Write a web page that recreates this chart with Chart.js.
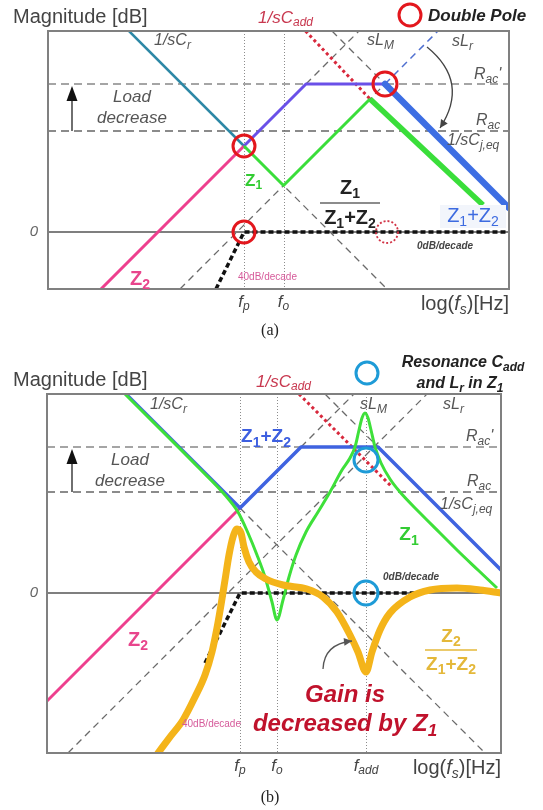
<!DOCTYPE html>
<html>
<head>
<meta charset="utf-8">
<script src="https://cdn.jsdelivr.net/npm/chart.js@4.4.1/dist/chart.umd.min.js"></script>
<style>
  html, body { margin: 0; padding: 0; background: #fff; }
  #wrap { position: relative; width: 543px; height: 810px; overflow: hidden; }
  canvas { position: absolute; left: 0; }
  #cA { top: 0; }
  #cB { top: 345px; }
</style>
</head>
<body>
<div id="wrap">
  <canvas id="cA" width="543" height="345"></canvas>
  <canvas id="cB" width="543" height="465"></canvas>
</div>
<script>
// x: log10 of switching frequency (decades, arbitrary origin); y: magnitude in dB.
// Asymptotes fall or rise at 20 dB/decade, the dotted gain asymptote at 40 dB/decade.

// ---------- panel (a): straight-line asymptotes ----------
const a_xRange = [0, 9.22];
const a_yRange = [-22.8, 80.4];
const a_fp = 3.92, a_fo = 4.71;
const a_racPrime = 59.2, a_rac = 40.4;
const a_invCr     = [[1.62, 80.4], [3.92, 34.4]];
const a_invCrTail = [[3.92, 34.4], [6.78, -22.8]];
const a_z2        = [[1.06, -22.8], [3.92, 34.4]];
const a_sum       = [[3.92, 34.4], [5.16, 59.2], [6.74, 59.2]];
const a_sumTail   = [[6.74, 59.2], [9.22, 9.6]];
const a_z1        = [[3.92, 34.4], [4.71, 18.6], [6.44, 53.2]];
const a_z1Tail    = [[6.44, 53.2], [8.70, 10.8]];
const a_ratio     = [[3.36, -22.8], [3.92, 0], [9.22, 0]];
const a_invCadd   = [[5.15, 80.4], [6.44, 53.2]];
const a_sLr       = [[2.64, -22.8], [6.74, 59.2]];
const a_sLrTop    = [[6.74, 59.2], [7.80, 80.4]];
const a_sLmTop    = [[5.16, 59.2], [6.22, 80.4]];
const a_invCjTop  = [[5.68, 80.4], [6.74, 59.2]];
const a_poles     = [[3.92, 34.4], [3.92, 0], [6.74, 59.2]];
const a_cancelled = [6.78, 0];
const a_tickVals  = [a_fp, a_fo];
const a_tickNames = ['f_p', 'f_o'];

// ---------- panel (b): with the added capacitor resonance ----------
const b_xRange = [0, 9.08];
const b_yRange = [-64, 79.6];
const b_fp = 3.86, b_fo = 4.60, b_fadd = 6.38;
const b_racPrime = 58.4, b_rac = 40.4;
const b_sum       = [[1.58, 79.6], [3.86, 34.0], [5.08, 58.4], [6.62, 58.4], [9.08, 9.2]];
const b_z2        = [[0, -43.2], [3.86, 34.0]];
const b_ratio     = [[3.16, -28], [3.86, 0], [7.50, 0]];
const b_invCadd   = [[5.04, 79.6], [6.90, 42.4]];
const b_sLr       = [[0.42, -64], [7.60, 79.6]];
const b_invCrTail = [[3.86, 34.0], [8.76, -64]];
const b_sLmTop    = [[5.08, 58.4], [6.14, 79.6]];
const b_invCjTop  = [[5.56, 79.6], [6.62, 58.4]];
const b_z1 = [
  [1.56, 79.6], [3.06, 49.6], [3.56, 39.2], [3.82, 32.4], [4.02, 24.0], [4.20, 15.2],
  [4.36, 6.4], [4.50, -3.6], [4.60, -10.8], [4.72, -2.8], [4.84, 6.4], [4.98, 15.2],
  [5.18, 24.4], [5.42, 32.4], [5.66, 40.4], [5.90, 49.2], [6.06, 54.0], [6.16, 58.4],
  [6.24, 65.2], [6.30, 70.0], [6.36, 72.0], [6.42, 70.0], [6.48, 65.2], [6.56, 58.4],
  [6.68, 52.0], [6.86, 45.6], [7.06, 40.4], [7.46, 32.0], [7.86, 24.0], [8.22, 16.8],
  [8.62, 9.2], [9.00, 2.0]
];
const b_gain = [
  [2.22, -64], [2.46, -57.6], [2.72, -50.8], [2.96, -41.6], [3.16, -32.8], [3.30, -23.6],
  [3.40, -14.0], [3.48, -4.8], [3.56, 5.2], [3.64, 15.2], [3.72, 22.4], [3.80, 25.6],
  [3.88, 24.0], [3.94, 18.4], [4.04, 12.4], [4.18, 8.4], [4.38, 5.6], [4.72, 3.2],
  [5.20, 1.6], [5.52, -1.6], [5.80, -7.6], [6.06, -16.8], [6.22, -23.6], [6.38, -31.6],
  [6.50, -23.6], [6.66, -14.8], [6.86, -8.0], [7.26, -1.6], [7.66, 1.2], [8.20, 2.0],
  [8.66, 1.2], [9.08, 0]
];
const b_marks     = [[6.38, 53.2], [6.38, 0]];
const b_tickVals  = [b_fp, b_fo, b_fadd];
const b_tickNames = ['f_p', 'f_o', 'f_{add}'];

// ---------- drawing helpers ----------
const SANS = '"Liberation Sans", Arial, sans-serif';
const SERIF = '"Liberation Serif", "Times New Roman", serif';
const GREY = '#6a6a6a';
const DASH = [7, 5];

function pts(arr) { return arr.map(([x, y]) => ({ x, y })); }
function level(range, v) { return [[range[0], v], [range[1], v]]; }
function line(data, color, width, extra) {
  return Object.assign({
    data: pts(data), borderColor: color, borderWidth: width,
    pointRadius: 0, fill: false, tension: 0, borderCapStyle: 'butt', borderJoinStyle: 'round'
  }, extra || {});
}

function parseRich(s) {
  const parts = []; let i = 0, buf = '';
  while (i < s.length) {
    if (s[i] === '_') {
      if (buf) { parts.push({ t: buf }); buf = ''; }
      if (s[i + 1] === '{') { const j = s.indexOf('}', i); parts.push({ t: s.slice(i + 2, j), sub: true }); i = j + 1; }
      else { parts.push({ t: s[i + 1], sub: true }); i += 2; }
    } else { buf += s[i]; i++; }
  }
  if (buf) parts.push({ t: buf });
  return parts;
}

function text(ctx, s, x, y, o) {
  const parts = (Array.isArray(s) ? s : parseRich(s)).map(p => Object.assign({}, p));
  const size = o.size || 14, align = o.align || 'left';
  const font = p => `${(p.it !== undefined ? p.it : o.italic) ? 'italic ' : ''}${o.bold ? 'bold ' : ''}${p.sub ? Math.round(size * 0.72) : size}px ${o.family || SANS}`;
  let w = 0;
  for (const p of parts) { ctx.font = font(p); p.w = ctx.measureText(p.t).width; w += p.w; }
  if (o.measure) return w;
  let cx = align === 'center' ? x - w / 2 : align === 'right' ? x - w : x;
  ctx.save();
  ctx.fillStyle = o.color || '#444';
  ctx.textBaseline = 'middle'; ctx.textAlign = 'left';
  for (const p of parts) { ctx.font = font(p); ctx.fillText(p.t, cx, y + (p.sub ? size * 0.3 : 0)); cx += p.w; }
  ctx.restore();
  return w;
}

function fraction(ctx, num, den, cx, barY, barW, o) {
  text(ctx, num, cx, barY - o.size * 0.72, Object.assign({ align: 'center' }, o));
  text(ctx, den, cx, barY + o.size * 0.78, Object.assign({ align: 'center' }, o));
  ctx.save(); ctx.strokeStyle = o.barColor || o.color; ctx.lineWidth = 1.6;
  ctx.beginPath(); ctx.moveTo(cx - barW / 2, barY); ctx.lineTo(cx + barW / 2, barY); ctx.stroke();
  ctx.restore();
}

function ring(ctx, x, y, r, color, width, dash) {
  ctx.save(); ctx.strokeStyle = color; ctx.lineWidth = width;
  ctx.setLineDash(dash || []);
  ctx.beginPath(); ctx.arc(x, y, r, 0, Math.PI * 2); ctx.stroke();
  ctx.restore();
}

function arrowHead(ctx, x, y, ang, len, half, color) {
  ctx.save(); ctx.fillStyle = color;
  ctx.translate(x, y); ctx.rotate(ang);
  ctx.beginPath(); ctx.moveTo(0, 0); ctx.lineTo(-len, -half); ctx.lineTo(-len, half); ctx.closePath(); ctx.fill();
  ctx.restore();
}

function curvedArrow(ctx, x0, y0, cx, cy, x1, y1, color) {
  ctx.save(); ctx.strokeStyle = color; ctx.lineWidth = 1.3;
  ctx.beginPath(); ctx.moveTo(x0, y0); ctx.quadraticCurveTo(cx, cy, x1, y1); ctx.stroke();
  ctx.restore();
  arrowHead(ctx, x1, y1, Math.atan2(y1 - cy, x1 - cx), 8, 4, color);
}

function loadArrow(ctx, x, yBottom, yTip) {
  ctx.save(); ctx.strokeStyle = '#222'; ctx.lineWidth = 1.3;
  ctx.beginPath(); ctx.moveTo(x, yBottom); ctx.lineTo(x, yTip + 12); ctx.stroke();
  ctx.restore();
  arrowHead(ctx, x, yTip, -Math.PI / 2, 15, 5.5, '#111');
}

function freqGrid(chart, vals) {
  const { ctx, chartArea: a, scales: { x } } = chart;
  ctx.save(); ctx.strokeStyle = '#8c8c8c'; ctx.lineWidth = 1; ctx.setLineDash([1, 2]);
  for (const v of vals) {
    const px = Math.round(x.getPixelForValue(v)) + 0.5;
    ctx.beginPath(); ctx.moveTo(px, a.top); ctx.lineTo(px, a.bottom); ctx.stroke();
  }
  ctx.restore();
}

function frame(chart) {
  const { ctx, chartArea: a } = chart;
  ctx.save(); ctx.strokeStyle = '#808080'; ctx.lineWidth = 2;
  ctx.strokeRect(a.left, a.top, a.right - a.left, a.bottom - a.top);
  ctx.restore();
}

function axisTexts(chart, tickVals, tickNames) {
  const { ctx, chartArea: a, scales: { x, y } } = chart;
  text(ctx, 'Magnitude [dB]', 13, a.top - 14, { size: 20, color: '#444' });
  text(ctx, '0', 34, y.getPixelForValue(0), { size: 15, italic: true, color: '#666', align: 'center' });
  tickVals.forEach((v, i) => text(ctx, tickNames[i], x.getPixelForValue(v), a.bottom + 13, { size: 17, italic: true, color: '#444', align: 'center' }));
  text(ctx, [{ t: 'log(', it: false }, { t: 'f', it: true }, { t: 's', sub: true, it: true }, { t: ')[Hz]', it: false }],
    a.right, a.bottom + 15, { size: 20, color: '#444', align: 'right' });
}

function baseOptions(xr, yr, pad) {
  return {
    responsive: false, animation: false, devicePixelRatio: 1, events: [],
    layout: { padding: pad },
    plugins: { legend: { display: false }, tooltip: { enabled: false } },
    scales: {
      x: { type: 'linear', min: xr[0], max: xr[1], display: false },
      y: { type: 'linear', min: yr[0], max: yr[1], display: false }
    }
  };
}

// ---------- panel (a) ----------
const decorA = {
  id: 'decorA',
  beforeDatasetsDraw(chart) { freqGrid(chart, a_tickVals); },
  afterDatasetsDraw(chart) {
    const { ctx, chartArea: a, scales: { x, y } } = chart;
    const X = v => x.getPixelForValue(v), Y = v => y.getPixelForValue(v);
    frame(chart);
    const it = { size: 16, italic: true, color: '#555' };

    a_poles.forEach(([px, py], i) => ring(ctx, X(px), Y(py), i === 2 ? 12 : 11, '#e3171d', 3));
    ring(ctx, X(a_cancelled[0]), Y(a_cancelled[1]), 11, '#d23446', 1.8, [2, 2]);

    loadArrow(ctx, 72, Y(a_rac), Y(a_racPrime) + 2);
    text(ctx, 'Load', 132, 97, Object.assign({}, it, { size: 17, align: 'center' }));
    text(ctx, 'decrease', 132, 118, Object.assign({}, it, { size: 17, align: 'center' }));

    text(ctx, '1/sC_r', 154, 41, it);
    text(ctx, '1/sC_{add}', 258, 18, { size: 17, italic: true, color: '#c8384f' });
    ring(ctx, 410, 15, 11, '#e3171d', 3);
    text(ctx, 'Double Pole', 428, 16, { size: 17, italic: true, bold: true, color: '#222' });
    text(ctx, 'sL_M', 367, 41, it);
    text(ctx, 'sL_r', 452, 42, it);
    text(ctx, "R_{ac}'", 474, 75, it);
    text(ctx, 'R_{ac}', 476, 121, it);
    text(ctx, '1/sC_{j,eq}', 447, 141, it);
    curvedArrow(ctx, 427, 47, 470, 82, 440, 128, '#444');

    text(ctx, 'Z_1', 245, 181, { size: 17, bold: true, color: '#33cc33' });
    text(ctx, 'Z_2', 130, 279, { size: 20, bold: true, color: '#e8458c' });
    fraction(ctx, 'Z_1', 'Z_1+Z_2', 350, 203, 60, { size: 20, bold: true, color: '#222', barColor: '#666' });

    ctx.save(); ctx.fillStyle = '#f2f5fb'; ctx.fillRect(440, 205, 66, 23); ctx.restore();
    text(ctx, 'Z_1+Z_2', 473, 216, { size: 20, color: '#3d6be0', align: 'center' });

    text(ctx, '0dB/decade', 417, 246, { size: 10, italic: true, bold: true, color: '#444' });
    text(ctx, '40dB/decade', 238, 277, { size: 10, color: '#d65a9a' });

    axisTexts(chart, a_tickVals, a_tickNames);
    text(ctx, '(a)', 270, 331, { size: 16, family: SERIF, color: '#222', align: 'center' });
  }
};

new Chart(document.getElementById('cA'), {
  type: 'line',
  data: {
    datasets: [
      line(a_ratio, '#111', 3.5, { borderDash: [5, 3] }),
      line(a_z1, '#3ade3a', 3),
      line(a_z1Tail, '#3ade3a', 5.5),
      line(a_sumTail, '#3d6ee3', 6.5, { borderCapStyle: 'round' }),
      line(a_sum, '#6a50e8', 3),
      line(a_z2, '#ee3f8e', 3),
      line(a_invCr, '#2d88a6', 2.5),
      line(a_invCadd, '#d8283c', 3, { borderDash: [3, 3] }),
      line(a_sLrTop, '#5070d0', 1.5, { borderDash: DASH }),
      line(a_sLr, GREY, 1.3, { borderDash: DASH }),
      line(a_invCrTail, GREY, 1.3, { borderDash: DASH }),
      line(a_sLmTop, GREY, 1.3, { borderDash: DASH }),
      line(a_invCjTop, GREY, 1.3, { borderDash: DASH }),
      line(level(a_xRange, a_racPrime), '#888', 1.6, { borderDash: [8, 5] }),
      line(level(a_xRange, a_rac), '#666', 1.6, { borderDash: [8, 5] }),
      line(level(a_xRange, 0), '#555', 1.5)
    ]
  },
  options: baseOptions(a_xRange, a_yRange, { left: 48, top: 31, right: 34, bottom: 56 }),
  plugins: [decorA]
});

// ---------- panel (b) ----------
const B_TOP = 345;
const decorB = {
  id: 'decorB',
  beforeDatasetsDraw(chart) { freqGrid(chart, b_tickVals); },
  afterDatasetsDraw(chart) {
    const { ctx, scales: { x, y } } = chart;
    const X = v => x.getPixelForValue(v), Y = v => y.getPixelForValue(v);
    frame(chart);
    const it = { size: 16, italic: true, color: '#555' };

    b_marks.forEach(([px, py]) => ring(ctx, X(px), Y(py), 12, '#1e9bd7', 3));
    axisTexts(chart, b_tickVals, b_tickNames);

    ctx.save();
    ctx.translate(0, -B_TOP);
    loadArrow(ctx, 72, Y(b_rac) + B_TOP, Y(b_racPrime) + B_TOP + 2);
    text(ctx, 'Load', 130, 460, Object.assign({}, it, { size: 17, align: 'center' }));
    text(ctx, 'decrease', 130, 481, Object.assign({}, it, { size: 17, align: 'center' }));

    text(ctx, '1/sC_{add}', 256, 382, { size: 17, italic: true, color: '#c8384f' });
    ring(ctx, 367, 373, 11, '#1e9bd7', 3);
    text(ctx, 'Resonance C_{add}', 463, 363, { size: 16, italic: true, bold: true, color: '#222', align: 'center' });
    text(ctx, 'and L_r in Z_1', 460, 384, { size: 16, italic: true, bold: true, color: '#222', align: 'center' });
    text(ctx, '1/sC_r', 150, 405, it);
    text(ctx, 'sL_M', 360, 405, it);
    text(ctx, 'sL_r', 443, 405, it);
    text(ctx, "R_{ac}'", 466, 437, it);
    text(ctx, 'R_{ac}', 467, 482, it);
    text(ctx, '1/sC_{j,eq}', 440, 505, it);

    text(ctx, 'Z_1+Z_2', 266, 437, { size: 19, bold: true, color: '#3d5fe0', align: 'center' });
    text(ctx, 'Z_1', 409, 535, { size: 19, bold: true, color: '#33cc33', align: 'center' });
    text(ctx, 'Z_2', 128, 640, { size: 20, bold: true, color: '#e8458c' });
    text(ctx, '0dB/decade', 383, 577, { size: 10, italic: true, bold: true, color: '#444' });
    text(ctx, '40dB/decade', 182, 724, { size: 10, color: '#d65a9a' });
    fraction(ctx, 'Z_2', 'Z_1+Z_2', 451, 650, 52, { size: 19, bold: true, color: '#e4b83a' });

    curvedArrow(ctx, 323, 669, 324, 644, 352, 641, '#555');
    text(ctx, 'Gain is', 345, 695, { size: 24, italic: true, bold: true, color: '#c0122c', align: 'center' });
    text(ctx, 'decreased by Z_1', 345, 724, { size: 24, italic: true, bold: true, color: '#c0122c', align: 'center' });

    text(ctx, '(b)', 270, 798, { size: 16, family: SERIF, color: '#222', align: 'center' });
    ctx.restore();
  }
};

new Chart(document.getElementById('cB'), {
  type: 'line',
  data: {
    datasets: [
      line(b_gain, '#f4b41a', 7, { cubicInterpolationMode: 'monotone', tension: 0.4, borderCapStyle: 'round' }),
      line(b_z1, '#3ee03a', 3, { cubicInterpolationMode: 'monotone', tension: 0.4 }),
      line(b_ratio, '#111', 3.5, { borderDash: [5, 3] }),
      line(b_sum, '#3f63e0', 3.5),
      line(b_z2, '#ee3f8e', 3),
      line(b_invCadd, '#d8283c', 3, { borderDash: [3, 3] }),
      line(b_sLr, GREY, 1.3, { borderDash: DASH }),
      line(b_invCrTail, GREY, 1.3, { borderDash: DASH }),
      line(b_sLmTop, GREY, 1.3, { borderDash: DASH }),
      line(b_invCjTop, GREY, 1.3, { borderDash: DASH }),
      line(level(b_xRange, b_racPrime), '#888', 1.6, { borderDash: [8, 5] }),
      line(level(b_xRange, b_rac), '#666', 1.6, { borderDash: [8, 5] }),
      line(level(b_xRange, 0), '#555', 1.5)
    ]
  },
  options: baseOptions(b_xRange, b_yRange, { left: 47, top: 49, right: 42, bottom: 57 }),
  plugins: [decorB]
});
</script>
</body>
</html>
